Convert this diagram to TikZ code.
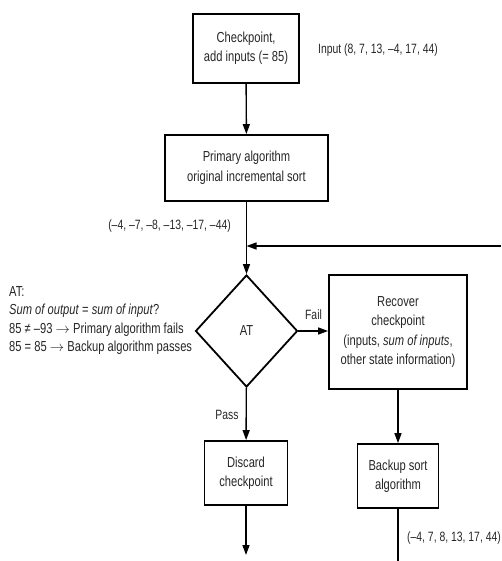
\documentclass[tikz,border=0pt]{standalone}
\usepackage{fontspec}
\setmainfont[FakeStretch=0.77]{Liberation Sans}
\usetikzlibrary{shapes.geometric,arrows.meta}
\newcommand{\myarr}{\ensuremath{\rightarrow}}
\begin{document}
\begin{tikzpicture}[x=1pt,y=-1pt,
  every node/.style={font=\fontsize{13.5}{19}\selectfont, text=black!85},
  box/.style={draw=black, line width=1.8pt, align=center, inner sep=0pt, font=\fontsize{14.5}{19.5}\selectfont},
  dec/.style={draw=black, line width=1.8pt, diamond, inner sep=0pt, minimum width=102pt, minimum height=112pt, font=\fontsize{14.5}{19.5}\selectfont},
  conn/.style={line width=1.4pt, -{Triangle[length=10pt,width=7pt]}},
  plain/.style={line width=1.4pt},
  lbl/.style={inner sep=0pt}]
\useasboundingbox (0,0) rectangle (501,561);
\node[box, minimum width=106pt, minimum height=69pt] (check) at (246,48.5) {Checkpoint,\\add inputs (= 85)};
\node[box, minimum width=163pt, minimum height=66pt] (prim) at (246.5,168) {Primary algorithm\\original incremental sort};
\node[dec] (at) at (246.5,331) {AT};
\node[box, minimum width=138pt, minimum height=114pt] (rec) at (398,332) {Recover\\checkpoint\\(inputs, \textit{sum of inputs},\\other state information)};
\node[box, minimum width=83pt, minimum height=64pt] (disc) at (246,473) {Discard\\checkpoint};
\node[box, minimum width=81pt, minimum height=64pt] (back) at (398,476) {Backup sort\\algorithm};
\coordinate (fb) at (501,246);
\coordinate (discend) at (246,555);
\coordinate (backend) at (398,561);
\node[lbl, anchor=west] (inp) at (318,50) {Input (8, 7, 13, –4, 17, 44)};
\node[lbl, anchor=east] (pout) at (231,226) {(–4, –7, –8, –13, –17, –44)};
\node[lbl, anchor=west, align=left, font=\fontsize{14.5}{18.5}\selectfont] (atnote) at (9,320.5) {AT:\\\textit{Sum of output} = \textit{sum of input}?\\85 ≠ –93 \myarr{} Primary algorithm fails\\85 = 85 \myarr{} Backup algorithm passes};
\node[lbl] (pass) at (227,415) {Pass};
\node[lbl] (fail) at (313.5,315) {Fail};
\node[lbl, anchor=west] (bout) at (407,538) {(–4, 7, 8, 13, 17, 44)};
\draw[conn] (check) -- (prim);
\draw[conn] (prim) -- (at);
\draw[conn] (fb) -- (fb -| prim.south);
\draw[conn] (at.east) -- (rec.west |- at.east);
\draw[conn] (at) -- (disc);
\draw[conn] (disc) -- (discend);
\draw[conn] (rec) -- (back);
\draw[plain] (back) -- (backend);
\end{tikzpicture}
\end{document}
